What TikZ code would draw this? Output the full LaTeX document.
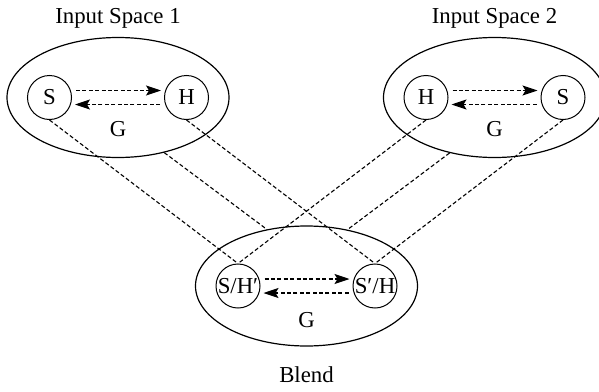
\documentclass[tikz,border=0pt]{standalone}
\usepackage{fontspec}
\setmainfont{Liberation Serif}
\usetikzlibrary{arrows.meta,shapes.geometric,positioning}

\begin{document}
\begin{tikzpicture}[x=0.5pt,y=0.5pt,node distance=34.25pt]
    \fontsize{11.4pt}{13pt}\selectfont  % 字体大小
    \useasboundingbox (0,0) rectangle (599,-391);

    \tikzstyle{inspace}=[ellipse,draw,line width=0.6pt,minimum width=111pt,minimum height=60pt,inner sep=0pt]  % 空间的椭圆
    \tikzstyle{elem}=[circle,draw,line width=0.5pt,minimum size=22pt,inner sep=0pt]  % 元素的小圆
    \tikzstyle{maplink}=[line width=0.55pt,dash pattern=on 2pt off 1.2pt]  % 映射虚线
    \tikzstyle{relarrow}=[line width=0.55pt,dash pattern=on 2pt off 1.2pt,-{Stealth[length=7.5pt,width=5pt,inset=1.5pt]},shorten <=2pt,shorten >=1.5pt]

    % 输入空间1
    \node[inspace](in1) at (118,-97.5){};
    \node[elem,left of=in1](s1){S};
    \node[elem,right of=in1](h1){H};
    \node[below of=in1,node distance=16pt](g1){G};
    \node[anchor=base](t1) at (118,-23){Input Space 1};
    % 输入空间2
    \node[inspace](in2) at (494.5,-97.5){};
    \node[elem,left of=in2](h2){H};
    \node[elem,right of=in2](s2){S};
    \node[below of=in2,node distance=16pt](g2){G};
    \node[anchor=base](t2) at (494.5,-23){Input Space 2};
    % 合成空间
    \node[inspace](bl) at (306.5,-286){};
    \node[elem,left of=bl](sh){S/H′};
    \node[elem,right of=bl](hs){S′/H};
    \node[below of=bl,node distance=17pt](g3){G};
    \node[anchor=base](t3) at (306.5,-382){Blend};

    % 开始画线
    \draw[relarrow]([yshift=3.5pt]s1.east)--([yshift=3.5pt]h1.west);
    \draw[relarrow]([yshift=-3.5pt]h1.west)--([yshift=-3.5pt]s1.east);
    \draw[relarrow]([yshift=3.5pt]h2.east)--([yshift=3.5pt]s2.west);
    \draw[relarrow]([yshift=-3.5pt]s2.west)--([yshift=-3.5pt]h2.east);
    \draw[relarrow]([yshift=3.5pt]sh.east)--([yshift=3.5pt]hs.west);
    \draw[relarrow]([yshift=-3.5pt]hs.west)--([yshift=-3.5pt]sh.east);

    \draw[maplink](s1.south)--(sh.north);
    \draw[maplink](h1.south)--(hs.north);
    \draw[maplink](h2.south)--(sh.north);
    \draw[maplink](s2.south)--(hs.north);
    \draw[maplink](in1.-50.5)--(bl.125.7);
    \draw[maplink](in2.-129.5)--(bl.54.3);
\end{tikzpicture}
\end{document}
